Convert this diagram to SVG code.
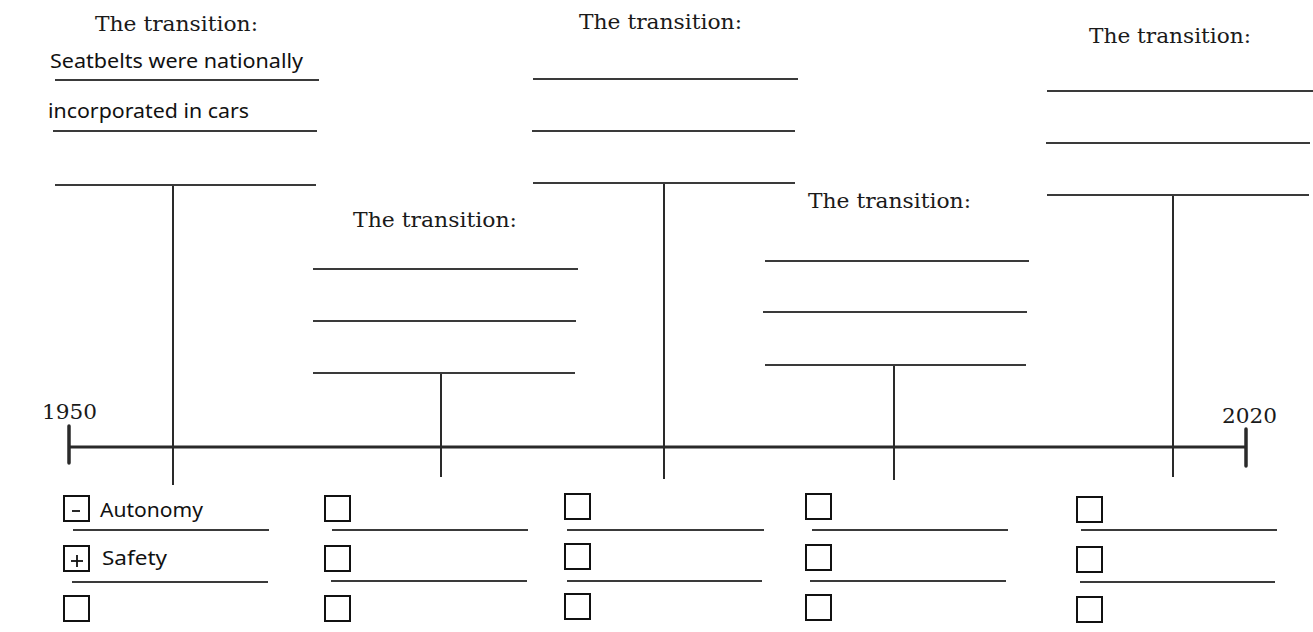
<svg xmlns="http://www.w3.org/2000/svg" width="1313" height="632" viewBox="0 0 1313 632">
  <style>
    .bg { fill: #ffffff; }
    .title { font-family: "DejaVu Serif", "Liberation Serif", serif; font-size: 21px; fill: #1a1a1a; }
    .year { font-family: "DejaVu Serif", "Liberation Serif", serif; font-size: 21px; fill: #1a1a1a; }
    .hand { font-family: "Noto Sans", "Open Sans", sans-serif; font-size: 19px; fill: #111111; }
    .blank { stroke: #3a3a3a; stroke-width: 2; fill: none; }
    .stem { stroke: #2a2a2a; stroke-width: 2; fill: none; }
    .axis { stroke: #2a2a2a; stroke-width: 3.2; fill: none; }
    .tick { stroke: #2a2a2a; stroke-width: 3.5; fill: none; stroke-linecap: round; }
    .box { stroke: #111111; stroke-width: 2; fill: none; }
    .sign { stroke: #111111; stroke-width: 1.8; fill: none; }
  </style>

  <rect class="bg" x="0" y="0" width="1313" height="632"/>

  <!-- timeline axis and the stems joining each transition to it -->
  <g id="connectors">
    <line class="axis" x1="70" y1="447" x2="1246" y2="447"/>
    <line class="tick" x1="69" y1="426" x2="69" y2="463"/>
    <line class="tick" x1="1246" y1="429" x2="1246" y2="466"/>
    <line class="stem" x1="173" y1="185" x2="173" y2="485"/>
    <line class="stem" x1="441" y1="373" x2="441" y2="477"/>
    <line class="stem" x1="664" y1="183" x2="664" y2="479"/>
    <line class="stem" x1="894" y1="365" x2="894" y2="480"/>
    <line class="stem" x1="1173" y1="195" x2="1173" y2="477"/>
  </g>

  <g id="year-1950">
    <text class="year" x="42" y="419" textLength="55" lengthAdjust="spacingAndGlyphs">1950</text>
  </g>
  <g id="year-2020">
    <text class="year" x="1222" y="423" textLength="55" lengthAdjust="spacingAndGlyphs">2020</text>
  </g>

  <!-- transition 1 -->
  <g id="transition-1">
    <text class="title" x="95" y="31" textLength="163" lengthAdjust="spacingAndGlyphs">The transition:</text>
    <text class="hand" x="50" y="68" textLength="253" lengthAdjust="spacingAndGlyphs">Seatbelts were nationally</text>
    <line class="blank" x1="55" y1="80" x2="319" y2="80"/>
    <text class="hand" x="48" y="118" textLength="201" lengthAdjust="spacingAndGlyphs">incorporated in cars</text>
    <line class="blank" x1="53" y1="131" x2="317" y2="131"/>
    <line class="blank" x1="55" y1="185" x2="316" y2="185"/>
  </g>
  <g id="checks-1">
    <rect class="box" x="64" y="496" width="25" height="25"/>
    <line class="sign" x1="72" y1="511" x2="80" y2="511"/>
    <text class="hand" x="100" y="517" textLength="103" lengthAdjust="spacingAndGlyphs">Autonomy</text>
    <line class="blank" x1="73" y1="530" x2="269" y2="530"/>
    <rect class="box" x="64" y="546" width="25" height="25"/>
    <line class="sign" x1="71" y1="561" x2="83" y2="561"/>
    <line class="sign" x1="77" y1="555" x2="77" y2="567"/>
    <text class="hand" x="102" y="565" textLength="65" lengthAdjust="spacingAndGlyphs">Safety</text>
    <line class="blank" x1="72" y1="582" x2="268" y2="582"/>
    <rect class="box" x="64" y="596" width="25" height="25"/>
  </g>

  <!-- transition 2 -->
  <g id="transition-2">
    <text class="title" x="353" y="227" textLength="164" lengthAdjust="spacingAndGlyphs">The transition:</text>
    <line class="blank" x1="313" y1="269" x2="578" y2="269"/>
    <line class="blank" x1="313" y1="321" x2="576" y2="321"/>
    <line class="blank" x1="313" y1="373" x2="575" y2="373"/>
  </g>
  <g id="checks-2">
    <rect class="box" x="325" y="496" width="25" height="25"/>
    <line class="blank" x1="332" y1="530" x2="528" y2="530"/>
    <rect class="box" x="325" y="546" width="25" height="25"/>
    <line class="blank" x1="331" y1="581" x2="527" y2="581"/>
    <rect class="box" x="325" y="596" width="25" height="25"/>
  </g>

  <!-- transition 3 -->
  <g id="transition-3">
    <text class="title" x="579" y="29" textLength="163" lengthAdjust="spacingAndGlyphs">The transition:</text>
    <line class="blank" x1="533" y1="79" x2="798" y2="79"/>
    <line class="blank" x1="532" y1="131" x2="795" y2="131"/>
    <line class="blank" x1="533" y1="183" x2="795" y2="183"/>
  </g>
  <g id="checks-3">
    <rect class="box" x="565" y="494" width="25" height="25"/>
    <line class="blank" x1="567" y1="530" x2="764" y2="530"/>
    <rect class="box" x="565" y="544" width="25" height="25"/>
    <line class="blank" x1="567" y1="581" x2="762" y2="581"/>
    <rect class="box" x="565" y="594" width="25" height="25"/>
  </g>

  <!-- transition 4 -->
  <g id="transition-4">
    <text class="title" x="808" y="208" textLength="163" lengthAdjust="spacingAndGlyphs">The transition:</text>
    <line class="blank" x1="765" y1="261" x2="1029" y2="261"/>
    <line class="blank" x1="763" y1="312" x2="1027" y2="312"/>
    <line class="blank" x1="765" y1="365" x2="1026" y2="365"/>
  </g>
  <g id="checks-4">
    <rect class="box" x="806" y="494" width="25" height="25"/>
    <line class="blank" x1="812" y1="530" x2="1008" y2="530"/>
    <rect class="box" x="806" y="545" width="25" height="25"/>
    <line class="blank" x1="810" y1="581" x2="1006" y2="581"/>
    <rect class="box" x="806" y="595" width="25" height="25"/>
  </g>

  <!-- transition 5 -->
  <g id="transition-5">
    <text class="title" x="1089" y="43" textLength="162" lengthAdjust="spacingAndGlyphs">The transition:</text>
    <line class="blank" x1="1047" y1="91" x2="1313" y2="91"/>
    <line class="blank" x1="1046" y1="143" x2="1310" y2="143"/>
    <line class="blank" x1="1047" y1="195" x2="1309" y2="195"/>
  </g>
  <g id="checks-5">
    <rect class="box" x="1077" y="497" width="25" height="25"/>
    <line class="blank" x1="1081" y1="530" x2="1277" y2="530"/>
    <rect class="box" x="1077" y="547" width="25" height="25"/>
    <line class="blank" x1="1080" y1="582" x2="1275" y2="582"/>
    <rect class="box" x="1077" y="597" width="25" height="25"/>
  </g>
</svg>
